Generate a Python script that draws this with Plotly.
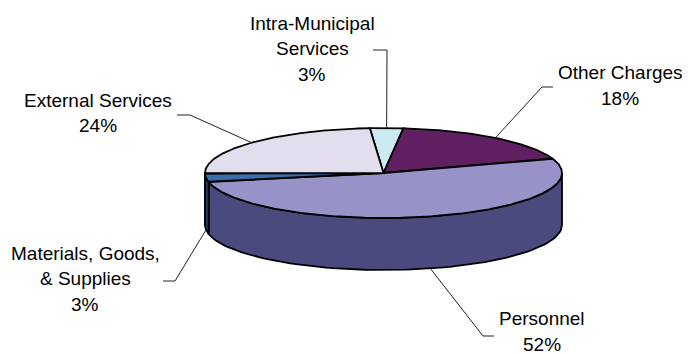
import numpy as np
import plotly.graph_objects as go

# ---- data (clockwise from top) ----
categories = ["Intra-Municipal Services", "Other Charges", "Personnel",
              "Materials, Goods, & Supplies", "External Services"]
values = [3, 18, 52, 3, 24]
label_lines = [["Intra-Municipal", "Services", "3%"],
               ["Other Charges", "18%"],
               ["Personnel", "52%"],
               ["Materials, Goods,", "& Supplies", "3%"],
               ["External Services", "24%"]]

# ---- styles / layout ----
top_colors = ["#CCEBF0", "#601F60", "#9793C9", "#3A6EAA", "#E2DEEE"]
side_colors = ["#8FB0B5", "#3A0F3A", "#4B4A7E", "#1E3F66", "#A09CB0"]
W, H = 698, 354
cx, cy, rx, ry, depth = 383.5, 173.0, 178.5, 45.0, 52.0
start_deg = -4.4

# label placement: (center x, first line y), line spacing; leader elbow & end
label_pos = [(312, 23), (620, 72.5), (542, 318.5), (85, 253), (98, 100)]
line_gap = 25.5
leader_elbow = [(387, 50), (542, 87), (483, 336), (175, 281), (190, 115)]
leader_end = [(373, 50), (553, 87), (494, 336), (163, 281), (177, 115)]


def pt(theta_deg, dz=0.0):
    t = np.radians(theta_deg)
    return cx + rx * np.sin(t), cy - ry * np.cos(t) + dz


fig = go.Figure()

total = float(sum(values))
angles = [start_deg]
for v in values:
    angles.append(angles[-1] + 360.0 * v / total)

# side walls (front-facing part: 90..270 deg)
for i in range(len(values)):
    a0, a1 = angles[i], angles[i + 1]
    segs = []
    for off in (-360, 0, 360):
        lo, hi = max(a0 + off, 90), min(a1 + off, 270)
        if hi > lo:
            segs.append((lo, hi))
    for lo, hi in segs:
        th = np.linspace(lo, hi, 80)
        xs_t, ys_t = pt(th)
        xs_b, ys_b = pt(th[::-1], depth)
        xs = np.concatenate([xs_t, xs_b, xs_t[:1]])
        ys = np.concatenate([ys_t, ys_b, ys_t[:1]])
        fig.add_trace(go.Scatter(x=xs, y=ys, mode="lines", fill="toself",
                                 fillcolor=side_colors[i],
                                 line=dict(color="black", width=1.8),
                                 hoverinfo="skip", showlegend=False))

# top faces
for i in range(len(values)):
    a0, a1 = angles[i], angles[i + 1]
    th = np.linspace(a0, a1, max(8, int((a1 - a0) * 2)))
    xa, ya = pt(th)
    xs = np.concatenate([[cx], xa, [cx]])
    ys = np.concatenate([[cy], ya, [cy]])
    fig.add_trace(go.Scatter(x=xs, y=ys, mode="lines", fill="toself",
                             fillcolor=top_colors[i],
                             line=dict(color="black", width=1.8),
                             hoverinfo="skip", showlegend=False))

# leader lines + labels
for i in range(len(values)):
    mid = (angles[i] + angles[i + 1]) / 2.0
    front = np.cos(np.radians(mid)) < 0
    ax_, ay_ = pt(mid, depth if front else 0.0)
    ex, ey = leader_elbow[i]
    tx, ty = leader_end[i]
    fig.add_trace(go.Scatter(x=[ax_, ex, tx], y=[ay_, ey, ty], mode="lines",
                             line=dict(color="#222222", width=1),
                             hoverinfo="skip", showlegend=False))
    lx, ly = label_pos[i]
    for k, txt in enumerate(label_lines[i]):
        fig.add_annotation(x=lx, y=ly + k * line_gap, text=txt, showarrow=False,
                           xanchor="center", yanchor="middle",
                           font=dict(family="Liberation Sans, Arial, sans-serif",
                                     size=19, color="black"))

fig.update_layout(
    width=W, height=H, autosize=False,
    margin=dict(l=0, r=0, t=0, b=0),
    paper_bgcolor="white", plot_bgcolor="white",
    xaxis=dict(range=[0, W], visible=False, fixedrange=True),
    yaxis=dict(range=[H, 0], visible=False, fixedrange=True),
    showlegend=False,
)

fig.write_html("out.html", config={"displayModeBar": False})
